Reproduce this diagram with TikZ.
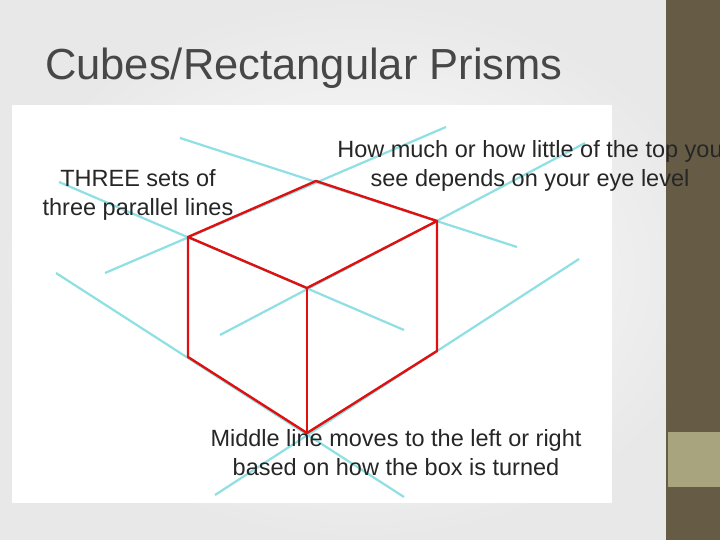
\documentclass[tikz,border=0pt]{standalone}
\usepackage{fontspec}
\setmainfont{Liberation Sans}
\definecolor{bar}{HTML}{665C46}
\definecolor{tan}{HTML}{A8A47E}
\definecolor{cy}{HTML}{8EE0E4}
\definecolor{rd}{HTML}{E01010}
\definecolor{tx}{HTML}{262626}
\begin{document}
\begin{tikzpicture}[x=1pt,y=-1pt,
  guide/.style={cy,line width=2.2pt},
  edge/.style={rd,line width=2.4pt,line join=round,line cap=round},
  lbl/.style={font=\fontsize{23.5}{29}\selectfont,text=tx,align=center,inner sep=0pt}]
\useasboundingbox (0,0) rectangle (720,540);
\shade[inner color=white,outer color=gray!18] (0,0) rectangle (720,540);
\fill[white] (12,105) rectangle (612,503);
% right bar
\fill[bar] (666,0) rectangle (720,540);
\fill[tan] (668,432) rectangle (720,487);
\node[anchor=west,inner sep=0pt,font=\fontsize{43.5}{44}\selectfont,text=tx!85] (title) at (45,68) {Cubes/Rectangular Prisms};
% guide lines
\coordinate (l1a) at (180,138); \coordinate (l1b) at (517,247);
\coordinate (l2a) at (446,127); \coordinate (l2b) at (105,273);
\coordinate (l3a) at (59,182);  \coordinate (l3b) at (404,330);
\coordinate (l4a) at (220,335); \coordinate (l4b) at (585,143);
\coordinate (l5a) at (215,495); \coordinate (l5b) at (579,259);
\coordinate (l6a) at (56,273);  \coordinate (l6b) at (404,497);
\foreach \p in {l1,l2,l3,l4,l5,l6} \draw[guide] (\p a) -- (\p b);
% cube
\coordinate (A) at (188,237); \coordinate (B) at (316,181);
\coordinate (C) at (437,221); \coordinate (D) at (307,288);
\coordinate (E) at (188,357); \coordinate (F) at (307,433);
\coordinate (G) at (437,351);
\draw[edge] (A) -- (B) -- (C) -- (D) -- cycle;
\draw[edge] (A) -- (E) -- (F) -- (G) -- (C);
\draw[edge,line width=1.8pt] (D) -- (F);
% labels
\node[lbl] (t1) at (138,195) {THREE sets of\\three parallel lines};
\node[lbl] (t2) at (530,166) {How much or how little of the top you\\see depends on your eye level};
\node[lbl] (t3) at (396,453) {Middle line moves to the left or right\\based on how the box is turned};
\end{tikzpicture}
\end{document}
